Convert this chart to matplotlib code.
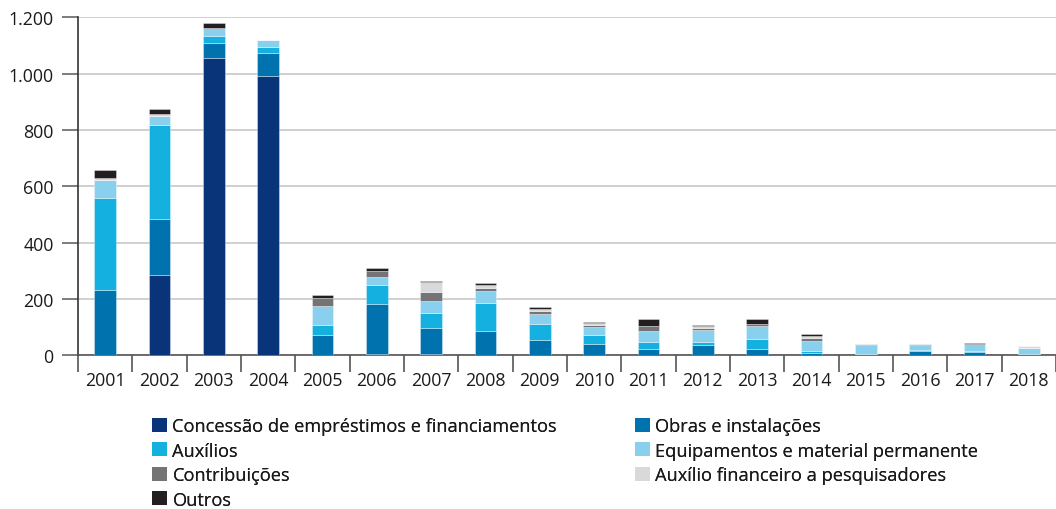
import numpy as np
import matplotlib
matplotlib.use("Agg")
import matplotlib.pyplot as plt
from matplotlib.patches import Patch
from matplotlib.ticker import FuncFormatter

plt.rcParams['font.family'] = ['Open Sans', 'DejaVu Sans']

# valores (R$ milhões)
anos = [str(a) for a in range(2001, 2019)]
concessao = [0, 286, 1057, 993, 0, 4, 4, 0, 0, 0, 0, 0, 0, 0, 0, 0, 0, 0]
obras = [233, 197, 53, 79, 73, 179, 94, 87, 55, 41, 24, 38, 24, 8, 3, 16, 10, 4]
auxilios = [326, 333, 22, 21, 36, 68, 53, 100, 57, 32, 22, 10, 33, 8, 0, 3, 4, 0]
equipamentos = [64, 35, 30, 26, 66, 28, 41, 40, 36, 26, 39, 43, 46, 36, 33, 17, 26, 21]
contribuicoes = [0, 0, 0, 2, 29, 21, 32, 12, 9, 8, 18, 7, 8, 8, 3, 4, 0, 0]
aux_financeiro = [5, 5, 0, 0, 0, 0, 35, 10, 7, 8, 0, 5, 0, 7, 0, 0, 0, 8]
outros = [31, 19, 19, 0, 9, 11, 5, 8, 9, 4, 26, 4, 18, 7, 0, 0, 4, 0]

series = [
    ("Concessão de empréstimos e financiamentos", concessao, "#0a347a"),
    ("Obras e instalações", obras, "#0072ae"),
    ("Auxílios", auxilios, "#14b0df"),
    ("Equipamentos e material permanente", equipamentos, "#89cfee"),
    ("Contribuições", contribuicoes, "#747477"),
    ("Auxílio financeiro a pesquisadores", aux_financeiro, "#d8d9db"),
    ("Outros", outros, "#231f20"),
]

fig = plt.figure(figsize=(10.56, 5.10), dpi=100)
ax = fig.add_axes([78 / 1056, 1 - 356.3 / 510, 1 - 78 / 1056, (356.3 - 18.3) / 510])

x = np.arange(len(anos))
base = np.zeros(len(anos))
handles = {}
for nome, vals, cor in series:
    vals = np.array(vals, dtype=float)
    ax.bar(x, vals, 0.4, bottom=base, color=cor, edgecolor=(1, 1, 1, 0.5),
           linewidth=0.5, zorder=3)
    base += vals
    handles[nome] = Patch(facecolor=cor, edgecolor='none')

ax.set_xlim(-0.5, len(anos) - 0.5)
ax.set_ylim(0, 1200)
ax.set_yticks(range(0, 1201, 200))
ax.yaxis.set_major_formatter(FuncFormatter(lambda v, p: f"{int(v):,}".replace(",", ".")))
ax.grid(axis='y', color='#c8c8c8', linewidth=1.2, zorder=0)
ax.set_axisbelow(True)

ax.set_xticks(x)
ax.set_xticklabels(anos)
ax.set_xticks(np.arange(-0.5, len(anos), 1), minor=True)
ax.tick_params(axis='x', which='major', length=0, pad=11, labelsize=12.8, colors='#1a1a1a')
ax.tick_params(axis='x', which='minor', length=12, width=1.2, color='#555555')
ax.tick_params(axis='y', length=11.5, width=1.2, color='#666666', pad=6,
               labelsize=12.8, labelcolor='#1a1a1a')

for s in ['top', 'right']:
    ax.spines[s].set_visible(False)
ax.spines['left'].set_color('#333333')
ax.spines['left'].set_linewidth(1.2)
ax.spines['bottom'].set_color('#555555')
ax.spines['bottom'].set_linewidth(1.2)

col1 = ["Concessão de empréstimos e financiamentos", "Auxílios", "Contribuições", "Outros"]
col2 = ["Obras e instalações", "Equipamentos e material permanente",
        "Auxílio financeiro a pesquisadores"]
for nomes, x0 in [(col1, 152), (col2, 635)]:
    leg = fig.legend([handles[n] for n in nomes], nomes, loc='upper left',
                     bbox_to_anchor=(x0 / 1056, 1 - 418 / 510), frameon=False,
                     fontsize=13.15, handlelength=0.82, handleheight=0.82,
                     handletextpad=0.3, labelspacing=0.36, borderpad=0,
                     borderaxespad=0)
    for t in leg.get_texts():
        t.set_color('#1a1a1a')
    fig.add_artist(leg)

fig.savefig("out.png", dpi=100)
